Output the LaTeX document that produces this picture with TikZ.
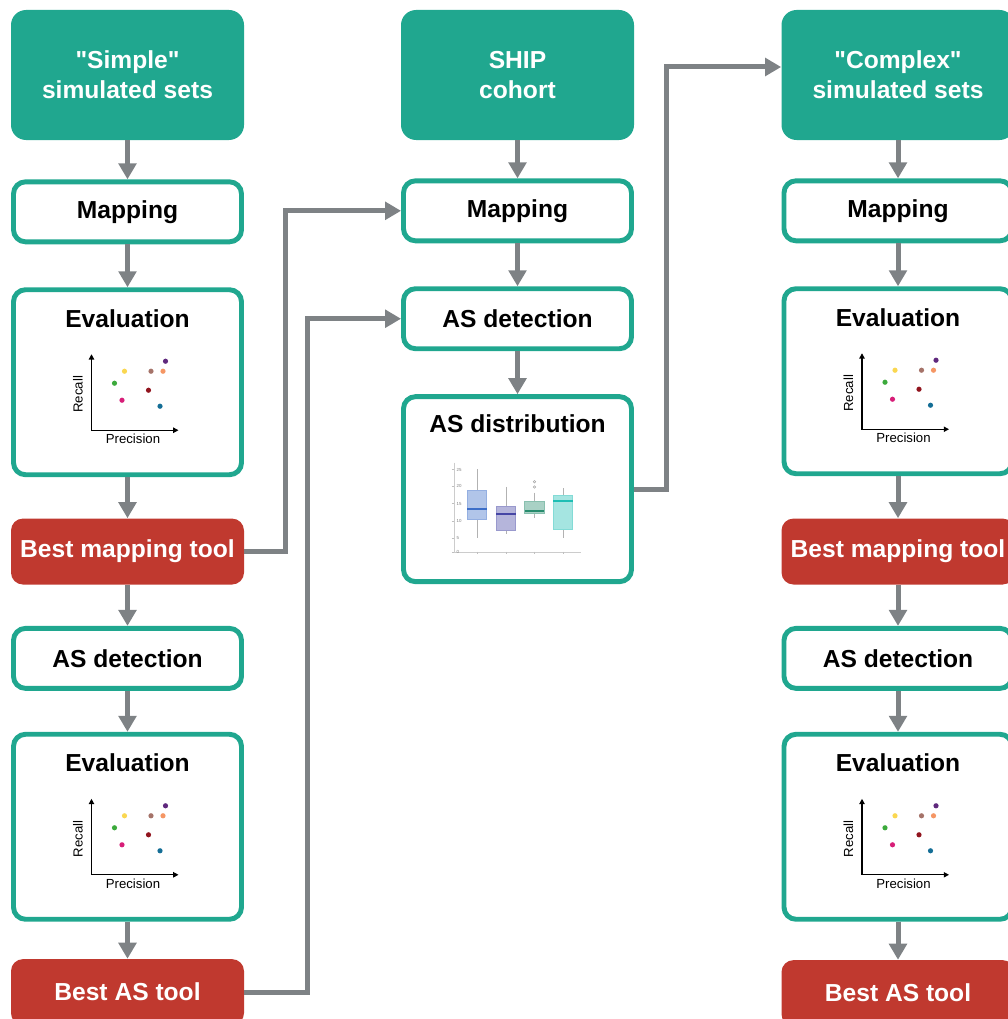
\documentclass[tikz,border=0pt]{standalone}
\usepackage{fontspec}
\setmainfont{Liberation Sans}[Ligatures=TeXOff]
\usetikzlibrary{arrows.meta, positioning}

\definecolor{tealbox}{RGB}{32,167,143}
\definecolor{redbox}{RGB}{192,57,47}
\definecolor{arrgray}{RGB}{126,130,133}
\definecolor{dotyel}{RGB}{250,215,80}
\definecolor{dotbrn}{RGB}{165,115,105}
\definecolor{dotsal}{RGB}{245,150,100}
\definecolor{dotpur}{RGB}{95,40,125}
\definecolor{dotgrn}{RGB}{60,170,60}
\definecolor{dotdred}{RGB}{145,20,30}
\definecolor{dotmag}{RGB}{215,30,120}
\definecolor{dotblu}{RGB}{20,110,150}
\definecolor{bxa}{RGB}{60,110,200}
\definecolor{bxb}{RGB}{70,70,165}
\definecolor{bxc}{RGB}{40,140,110}
\definecolor{bxd}{RGB}{30,190,180}

\tikzset{
    recplot/.pic={
        \begin{scope}[x=0.02cm, y=-0.02cm]
        \draw[line width=0.7pt, {Triangle[width=3pt,length=3pt]}-{Triangle[width=3pt,length=3pt]}]
            (-36,-28) -- (-36,48) -- (51,48);
        \node[rotate=90, font=\fontsize{7.5}{9}\selectfont] at (-49.5,12) {Recall};
        \node[font=\fontsize{7.5}{9}\selectfont] at (5.5,57) {Precision};
        \foreach \px/\py/\dc in {-3/-11/dotyel, 23.5/-11/dotbrn, 35.5/-11/dotsal,
                                 38/-21/dotpur, -13/1/dotgrn, 21/8/dotdred,
                                 -5.5/18/dotmag, 32.5/24/dotblu}
            \fill[\dc] (\px,\py) circle (0.052cm);
        \end{scope}
    }
}

\begin{document}
\begin{tikzpicture}[
    srcbox/.style={
        rectangle, fill=tealbox, rounded corners=0.3cm, text=white,
        align=center, minimum height=2.6cm, minimum width=4.66cm,
        font=\fontsize{14}{17}\selectfont\bfseries
    },
    stepbox/.style={
        rectangle, draw=tealbox, line width=2.8pt, fill=white, rounded corners=0.24cm,
        text centered, minimum height=1.2cm, minimum width=4.56cm,
        font=\fontsize{14}{17}\selectfont\bfseries
    },
    plotbox/.style={stepbox, minimum height=3.7cm},
    bestbox/.style={
        rectangle, fill=redbox, rounded corners=0.24cm, text=white,
        text centered, minimum height=1.32cm, minimum width=4.66cm,
        font=\fontsize{14}{17}\selectfont\bfseries
    },
    boxtitle/.style={font=\fontsize{14}{17}\selectfont\bfseries},
    arr/.style={-{Triangle[width=0.35cm,length=0.32cm]}, line width=0.1cm, draw=arrgray},
]

\clip (0,0) rectangle (20.16,-20.38);

%% Column 1: "Simple" simulated sets
\node[srcbox] (simp) at (2.55,-1.5) {"Simple"\\simulated sets};
\node[stepbox, below=0.78cm of simp] (smap) {Mapping};
\node[plotbox, below=0.86cm of smap] (seval) {};
\node[bestbox, below=0.82cm of seval] (sbest) {Best mapping tool};
\node[stepbox, below=0.82cm of sbest] (sas) {AS detection};
\node[plotbox, below=0.82cm of sas] (saseval) {};
\node[bestbox, below=0.74cm of saseval] (sbestas) {Best AS tool};

%% Column 2: SHIP cohort
\node[srcbox] (ship) at (10.35,-1.5) {SHIP\\cohort};
\node[stepbox, below=0.76cm of ship] (hmap) {Mapping};
\node[stepbox, below=0.86cm of hmap] (has) {AS detection};
\node[plotbox, below=0.86cm of has] (hdist) {};

%% Column 3: "Complex" simulated sets
\node[srcbox] (cplx) at (17.96,-1.5) {"Complex"\\simulated sets};
\node[stepbox, below=0.76cm of cplx] (cmap) {Mapping};
\node[plotbox, below=0.86cm of cmap] (ceval) {};
\node[bestbox, below=0.84cm of ceval] (cbest) {Best mapping tool};
\node[stepbox, below=0.82cm of cbest] (cas) {AS detection};
\node[plotbox, below=0.82cm of cas] (caseval) {};
\node[bestbox, below=0.76cm of caseval] (cbestas) {Best AS tool};

%% Titles and plots inside the tall boxes
\foreach \bx in {seval, saseval, ceval, caseval} {
    \node[boxtitle] at ([yshift=-0.62cm]\bx.north) {Evaluation};
    \pic at (\bx.center) {recplot};
}
\node[boxtitle] at ([yshift=-0.6cm]hdist.north) {AS distribution};

%% Box plot of AS distribution
\begin{scope}[shift={(hdist.center)}, x=0.02cm, y=-0.02cm]
    \draw[gray!40, line width=0.4pt] (-62.8,-26.5) -- (-62.8,62.8) -- (63.2,62.8);
    \foreach \ty/\tl in {-19.5/25, -2.8/20, 14.5/15, 31.8/10, 48.8/5, 62.8/0} {
        \draw[gray!50, line width=0.3pt] (-65.5,\ty) -- (-63.3,\ty);
        \node[gray, font=\fontsize{2.5}{3}\selectfont, anchor=west, inner sep=0.5pt] at (-62,\ty) {\tl};
    }
    \foreach \cx/\wh/\qb/\md/\qa/\wl/\bc in {-40.5/-19.8/0.8/19.8/30.2/48.8/bxa,
                                            -11.5/-2.2/17.5/24.8/40.8/44.5/bxb,
                                            17/3.5/11.8/21.8/23.8/28.8/bxc,
                                            45.5/-0.8/6.5/11.8/39.8/48.8/bxd} {
        \draw[gray!60, line width=0.4pt] (\cx,\wh) -- (\cx,\qb) (\cx,\qa) -- (\cx,\wl);
        \draw[gray!50, line width=0.3pt] (\cx,62.8) -- (\cx,65);
        \filldraw[fill=\bc!40, draw=\bc!55, line width=0.5pt] (\cx-9.7,\qb) rectangle (\cx+9.7,\qa);
        \draw[\bc, line width=0.7pt] (\cx-9.7,\md) -- (\cx+9.7,\md);
    }
    \draw[gray!70, line width=0.3pt] (17,-7.5) circle (0.025cm) (17,-2.2) circle (0.025cm);
\end{scope}

%% Arrows down each column
\foreach \a/\b in {simp/smap, smap/seval, seval/sbest, sbest/sas, sas/saseval, saseval/sbestas,
                   ship/hmap, hmap/has, has/hdist,
                   cplx/cmap, cmap/ceval, ceval/cbest, cbest/cas, cas/caseval, caseval/cbestas}
    \draw[arr] (\a.south) -- (\b.north);

%% Arrows between columns
\draw[arr] (sbest.east) -- ++(0.82cm,0) |- (hmap.west);
\draw[arr] (sbestas.east) -- ++(1.26cm,0) |- (has.west);
\draw[arr] (hdist.east) -- ++(0.66cm,0) |- ([yshift=0.16cm]cplx.west);

\end{tikzpicture}
\end{document}
